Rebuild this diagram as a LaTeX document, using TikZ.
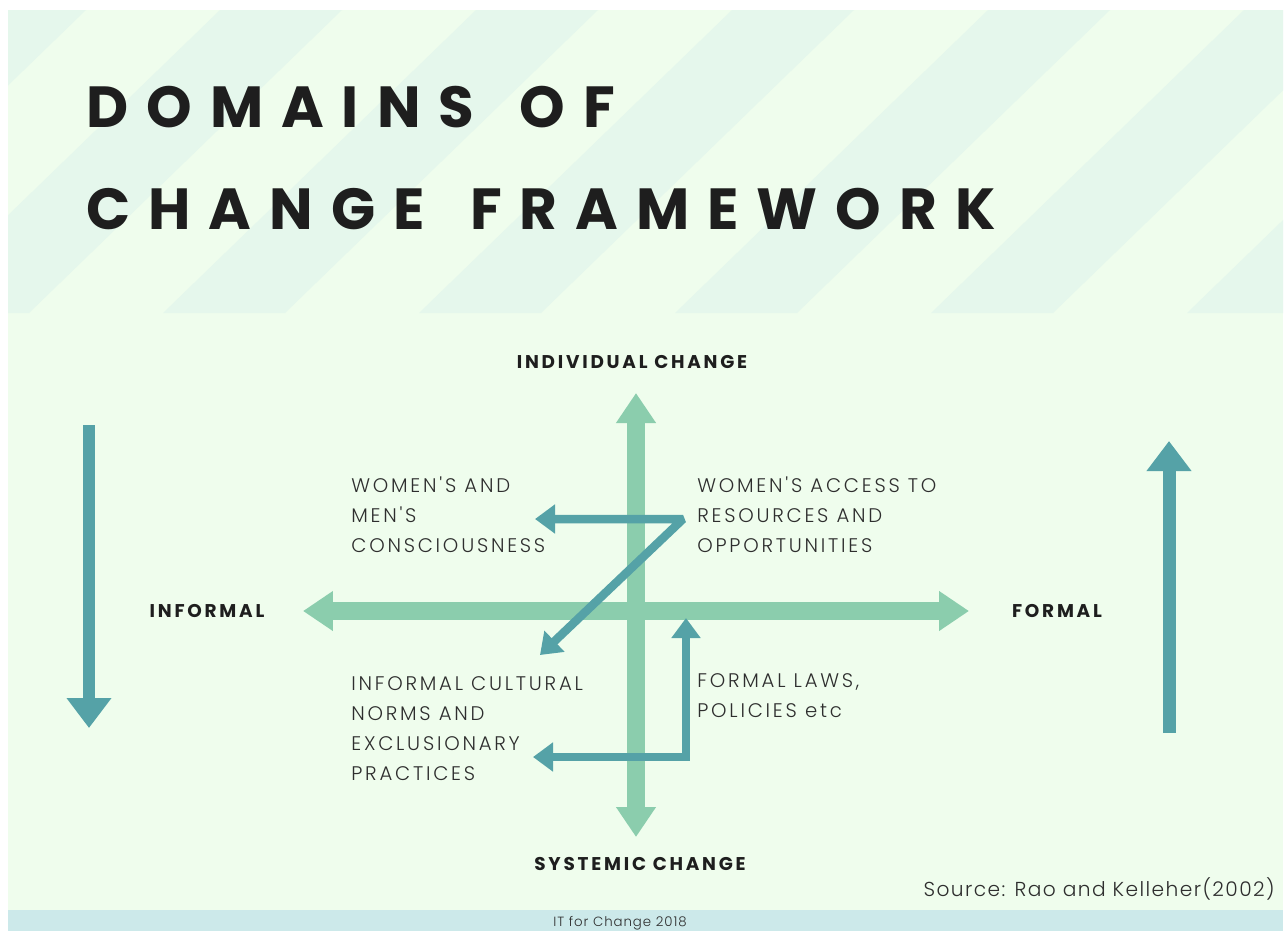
\documentclass[tikz,border=0pt]{standalone}
\usepackage{fontspec}
\usetikzlibrary{arrows.meta}
\setmainfont{Poppins}
\newfontfamily\titlefont[LetterSpace=31,WordSpace=1.5]{Poppins}
\newfontfamily\labelfont[LetterSpace=15]{Poppins}
\newfontfamily\bodyfont[LetterSpace=14]{Poppins Light}
\newfontfamily\sourcefont[LetterSpace=7]{Poppins Light}

\definecolor{mintbg}{HTML}{EFFDED}
\definecolor{mintstripe}{HTML}{E5F7EC}
\definecolor{footbg}{HTML}{CCE9EA}
\definecolor{crossgreen}{HTML}{8BCDAD}
\definecolor{tealarrow}{HTML}{55A2A7}
\definecolor{inkdark}{HTML}{1E1E1E}
\definecolor{inklight}{HTML}{2E2E2E}

\begin{document}
\begin{tikzpicture}[x=0.02cm, y=-0.02cm, line join=round,
    txt/.style={inner sep=0pt, anchor=base west},
    crossarrow/.style={draw=crossgreen, line width=3.6mm,
      {Triangle[width=7.6mm,length=6mm]}-{Triangle[width=7.6mm,length=6mm]}},
    sidearrow/.style={draw=tealarrow, line width=2.6mm,
      -{Triangle[width=8.6mm,length=6mm]}},
    linkarrow/.style={draw=tealarrow, line width=1.7mm,
      {Triangle[width=5.6mm,length=4mm]}-{Triangle[width=5.6mm,length=4mm]}},
    axislabel/.style={inner sep=0pt, anchor=base, text=inkdark,
      font=\labelfont\bfseries\fontsize{10.5}{12}\selectfont},
    domaintext/.style={txt, text=inklight, align=left,
      font=\bodyfont\fontsize{11.2}{17}\selectfont}]
  \useasboundingbox (0,0) rectangle (1285,931);
  % page, header band and footer
  \fill[white] (0,0) rectangle (1285,931);
  \fill[mintbg] (8,10) rectangle (1283,910);
  \begin{scope}
    \clip (8,10) rectangle (1283,313);
    \foreach \k in {-1,...,6}
      \fill[mintstripe] ({-36+256*\k},10) -- ++(122,0) -- ++(-313,303) -- ++(-122,0) -- cycle;
  \end{scope}
  \fill[footbg] (8,910) rectangle (1283,931);

  % title
  \node[txt, text=inkdark, font=\titlefont\bfseries\fontsize{33}{40}\selectfont] (title1) at (86,127) {DOMAINS OF};
  \node[txt, text=inkdark, font=\titlefont\bfseries\fontsize{33}{40}\selectfont] (title2) at (86,229) {CHANGE FRAMEWORK};

  % axes
  \coordinate (crossW) at (303,611);
  \coordinate (crossE) at (969,611);
  \coordinate (crossN) at (636,393);
  \coordinate (crossS) at (636,837);
  \draw[crossarrow] (crossW) -- (crossE);
  \draw[crossarrow] (crossN) -- (crossS);

  \node[axislabel] (indiv) at (632,368) {INDIVIDUAL CHANGE};
  \node[axislabel] (systemic) at (640,870) {SYSTEMIC CHANGE};
  \node[axislabel] (informal) at (207,617) {INFORMAL};
  \node[axislabel] (formal) at (1057,617) {FORMAL};

  % side arrows
  \coordinate (leftTop) at (89,425);
  \coordinate (leftBot) at (89,728);
  \coordinate (rightBot) at (1169,733);
  \coordinate (rightTop) at (1169,441);
  \draw[sidearrow] (leftTop) -- (leftBot);
  \draw[sidearrow] (rightBot) -- (rightTop);

  % the four domains (base = last line)
  \node[domaintext] (conscious) at (351,552) {WOMEN'S AND\\MEN'S\\CONSCIOUSNESS};
  \node[domaintext] (access) at (697,552) {WOMEN'S ACCESS TO\\RESOURCES AND\\OPPORTUNITIES};
  \node[domaintext] (norms) at (351,780) {INFORMAL CULTURAL\\NORMS AND\\EXCLUSIONARY\\PRACTICES};
  \node[domaintext] (laws) at (697,717) {FORMAL LAWS,\\POLICIES etc};

  % links between domains
  \coordinate (zLeft) at (535,519);
  \coordinate (zCorner) at (683,519);
  \coordinate (zDown) at (540,655);
  \draw[linkarrow, line join=bevel] (zLeft) -- (zCorner) -- (zDown);
  \coordinate (lLeft) at (533,757);
  \coordinate (lCorner) at (686,757);
  \coordinate (lUp) at (686,618);
  \draw[linkarrow, line join=miter] (lLeft) -- (lCorner) -- (lUp);

  % source and footer
  \node[inner sep=0pt, anchor=base east, text=inklight,
    font=\sourcefont\fontsize{11.5}{14}\selectfont] (source) at (1275,896) {Source: Rao and Kelleher(2002)};
  \node[inner sep=0pt, anchor=base, text=inklight,
    font=\sourcefont\fontsize{7.6}{9}\selectfont] (credit) at (620,926) {IT for Change 2018};
\end{tikzpicture}
\end{document}
